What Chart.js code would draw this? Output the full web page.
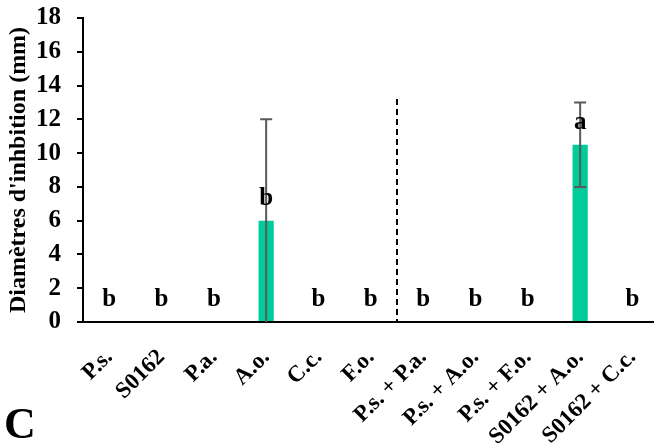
<!DOCTYPE html>
<html>
<head>
<meta charset="utf-8">
<script src="https://cdn.jsdelivr.net/npm/chart.js@4"></script>
<style>
  html, body { margin: 0; padding: 0; background: #fff; overflow: hidden; }
  #wrap { position: relative; width: 654px; height: 443px; overflow: hidden; }
  canvas { display: block; margin-top: -13px; }
  #panel { position: absolute; left: 4px; top: 402px; font: bold 44px "Liberation Serif", serif; color: #000; line-height: 44px; }
</style>
</head>
<body>
<div id="wrap">
  <canvas id="chart" width="666" height="456"></canvas>
  <div id="panel">C</div>
</div>
<script>
// Data
const categories = ["P.s.", "S0162", "P.a.", "A.o.", "C.c.", "F.o.",
  "P.s. + P.a.", "P.s. + A.o.", "P.s. + F.o.", "S0162 + A.o.", "S0162 + C.c."];
const values = [0, 0, 0, 6, 0, 0, 0, 0, 0, 10.5, 0];
const errLow = [null, null, null, 0, null, null, null, null, null, 8, null];
const errHigh = [null, null, null, 12, null, null, null, null, null, 13, null];
const letters = ["b", "b", "b", "b", "b", "b", "b", "b", "b", "a", "b"];
const letterPos = [1.3, 1.3, 1.3, 7.3, 1.3, 1.3, 1.3, 1.3, 1.3, 11.8, 1.3];
const separatorAfter = 5;   // dashed line between F.o. and P.s. + P.a.
const separatorTop = 13.2;

const serif = '"Liberation Serif", "Times New Roman", serif';

// Error bars
const errorBars = {
  id: "errorBars",
  afterDatasetsDraw(chart) {
    const ctx = chart.ctx;
    const x = chart.scales.x, y = chart.scales.y;
    ctx.save();
    ctx.strokeStyle = "#595959";
    ctx.lineWidth = 2;
    values.forEach((v, i) => {
      if (errHigh[i] == null) return;
      const cx = x.getPixelForValue(i);
      const y1 = y.getPixelForValue(errLow[i]);
      const y2 = y.getPixelForValue(errHigh[i]);
      ctx.beginPath();
      ctx.moveTo(cx, y1); ctx.lineTo(cx, y2);
      ctx.moveTo(cx - 6, y2); ctx.lineTo(cx + 6, y2);
      if (errLow[i] > 0) { ctx.moveTo(cx - 6, y1); ctx.lineTo(cx + 6, y1); }
      ctx.stroke();
    });
    ctx.restore();
  }
};

// Significance letters + dashed separator
const annotations = {
  id: "annotations",
  afterDraw(chart) {
    const ctx = chart.ctx;
    const x = chart.scales.x, y = chart.scales.y;
    ctx.save();
    ctx.fillStyle = "#000";
    ctx.font = "bold 25px " + serif;
    ctx.textAlign = "center";
    ctx.textBaseline = "middle";
    letters.forEach((t, i) => {
      ctx.fillText(t, x.getPixelForValue(i), y.getPixelForValue(letterPos[i]));
    });
    const sx = (x.getPixelForValue(separatorAfter) + x.getPixelForValue(separatorAfter + 1)) / 2;
    ctx.strokeStyle = "#000";
    ctx.lineWidth = 2;
    ctx.setLineDash([6, 4]);
    ctx.beginPath();
    ctx.moveTo(sx, y.getPixelForValue(separatorTop));
    ctx.lineTo(sx, y.getPixelForValue(0));
    ctx.stroke();
    ctx.restore();
  }
};

new Chart(document.getElementById("chart"), {
  type: "bar",
  data: {
    labels: categories,
    datasets: [{
      data: values,
      backgroundColor: "#00CC99",
      borderWidth: 0,
      categoryPercentage: 1,
      barPercentage: 0.29
    }]
  },
  options: {
    responsive: false,
    animation: false,
    layout: { padding: { top: 6, left: 0, right: 0, bottom: 0 } },
    plugins: { legend: { display: false }, tooltip: { enabled: false } },
    scales: {
      x: {
        afterFit: (s) => { s.height = 121; },
        grid: { display: false },
        border: { display: true, color: "#000", width: 2 },
        ticks: {
          color: "#000",
          maxRotation: 45,
          minRotation: 45,
          padding: 14,
          autoSkip: false,
          font: { family: serif, size: 23, weight: "bold" }
        }
      },
      y: {
        min: 0,
        max: 18,
        afterFit: (s) => { s.width = 83; },
        grid: { drawOnChartArea: false, drawTicks: true, tickLength: 6, color: "#000", lineWidth: 2 },
        border: { display: true, color: "#000", width: 2 },
        ticks: {
          stepSize: 2,
          autoSkip: false,
          color: "#000",
          padding: 16,
          font: { family: serif, size: 25, weight: "bold" }
        },
        title: {
          display: true,
          text: "Diamètres d'inhbition (mm)",
          color: "#000",
          padding: { top: 4, bottom: 0 },
          font: { family: serif, size: 24, weight: "bold" }
        }
      }
    }
  },
  plugins: [errorBars, annotations]
});
</script>
</body>
</html>
